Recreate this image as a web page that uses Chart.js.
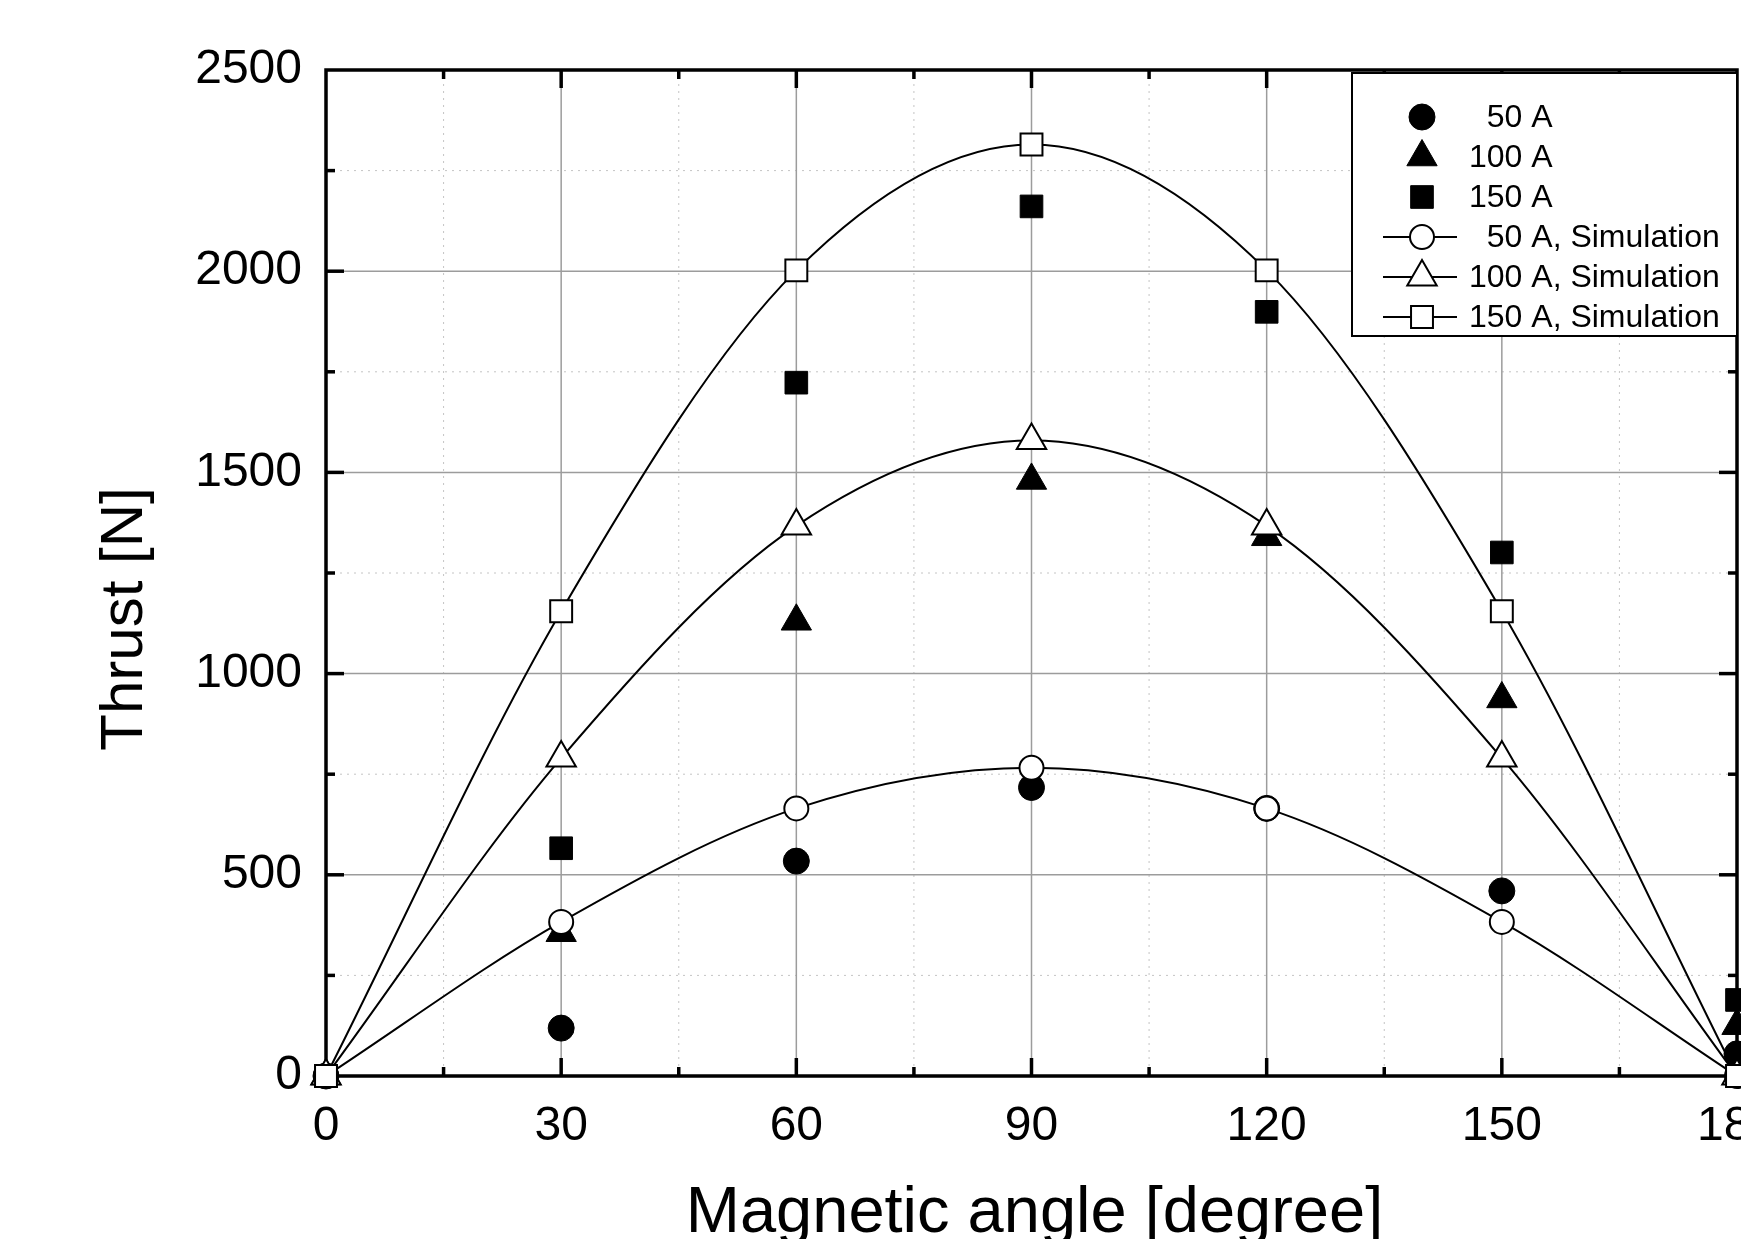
<!DOCTYPE html>
<html>
<head>
<meta charset="utf-8">
<script src="https://cdn.jsdelivr.net/npm/chart.js@4.4.0/dist/chart.umd.min.js"></script>
<style>
html,body{margin:0;padding:0;background:#fff;overflow:hidden}
#c{display:block}
</style>
</head>
<body>
<canvas id="c" width="1741" height="1239"></canvas>
<script>
// values
const angles = [0, 30, 60, 90, 120, 150, 180];
const exp50  = [0, 119, 534, 717, 665, 460, 55];
const exp100 = [0, 356, 1130, 1480, 1340, 937, 125];
const exp150 = [0, 566, 1723, 2161, 1899, 1301, 189];
const sim50  = [0, 383, 665, 766, 665, 383, 0];
const sim100 = [0, 790, 1367, 1579, 1367, 790, 0];
const sim150 = [0, 1155, 2002, 2315, 2002, 1155, 0];
const xTicks = [0, 30, 60, 90, 120, 150, 180];
const yTicks = [0, 500, 1000, 1500, 2000, 2500];
const seriesLabels = ["\u200750 A", "100 A", "150 A", "\u200750 A, Simulation", "100 A, Simulation", "150 A, Simulation"];
const xTitle = "Magnetic angle [degree]";
const yTitle = "Thrust [N]";

const FONT = "'Liberation Sans', Arial, sans-serif";
const pts = arr => angles.map((a, i) => ({x: a, y: arr[i]}));

function expSet(label, data, style, r, order){
  return {label, data: pts(data), showLine:false, pointStyle:style, pointRadius:r, pointHoverRadius:r,
    pointBackgroundColor:"#000", pointBorderColor:"#000", pointBorderWidth:1, order, clip:false, sim:false};
}
function simSet(label, data, style, r, order){
  return {label, data: pts(data), showLine:true, borderColor:"#000", borderWidth:2, cubicInterpolationMode:"monotone",
    pointStyle:style, pointRadius:r, pointHoverRadius:r, pointBackgroundColor:"#fff", pointBorderColor:"#000",
    pointBorderWidth:2, order, clip:false, sim:true};
}

// lower order is drawn on top
const datasets = [
  expSet(seriesLabels[0], exp50, "circle", 13, 5),
  expSet(seriesLabels[1], exp100, "triangle", 17.5, 4),
  expSet(seriesLabels[2], exp150, "rect", 16, 3),
  simSet(seriesLabels[3], sim50, "circle", 12, 2),
  simSet(seriesLabels[4], sim100, "triangle", 17, 1),
  simSet(seriesLabels[5], sim150, "rect", 15.5, 0)
];

function seg(ctx, x1, y1, x2, y2){ ctx.beginPath(); ctx.moveTo(x1, y1); ctx.lineTo(x2, y2); ctx.stroke(); }

const frame = {
  id: "frame",
  beforeDatasetsDraw(chart){
    const {ctx, chartArea: a, scales: {x, y}} = chart;
    ctx.save();
    // minor grid, dotted
    ctx.setLineDash([2, 5]); ctx.strokeStyle = "#c4c4c4"; ctx.lineWidth = 1;
    const xm = [], ym = [];
    for (let i = 0; i < xTicks.length - 1; i++) xm.push(x.getPixelForValue((xTicks[i] + xTicks[i+1]) / 2));
    for (let i = 0; i < yTicks.length - 1; i++) ym.push(y.getPixelForValue((yTicks[i] + yTicks[i+1]) / 2));
    xm.forEach(px => seg(ctx, px, a.top, px, a.bottom));
    ym.forEach(py => seg(ctx, a.left, py, a.right, py));
    // major grid
    ctx.setLineDash([]); ctx.strokeStyle = "#9c9c9c"; ctx.lineWidth = 1.5;
    const xM = xTicks.slice(1, -1).map(v => x.getPixelForValue(v));
    const yM = yTicks.slice(1, -1).map(v => y.getPixelForValue(v));
    xM.forEach(px => seg(ctx, px, a.top, px, a.bottom));
    yM.forEach(py => seg(ctx, a.left, py, a.right, py));
    // inward ticks on all four sides
    ctx.strokeStyle = "#000"; ctx.lineWidth = 3.5;
    const maj = 18, mnr = 9;
    xM.forEach(px => { seg(ctx, px, a.bottom, px, a.bottom - maj); seg(ctx, px, a.top, px, a.top + maj); });
    yM.forEach(py => { seg(ctx, a.left, py, a.left + maj, py); seg(ctx, a.right, py, a.right - maj, py); });
    xm.forEach(px => { seg(ctx, px, a.bottom, px, a.bottom - mnr); seg(ctx, px, a.top, px, a.top + mnr); });
    ym.forEach(py => { seg(ctx, a.left, py, a.left + mnr, py); seg(ctx, a.right, py, a.right - mnr, py); });
    // frame
    ctx.lineWidth = 3.5;
    ctx.strokeRect(a.left, a.top, a.right - a.left, a.bottom - a.top);
    ctx.restore();
  },
  afterDatasetsDraw(chart){
    const {ctx, chartArea: a} = chart;
    ctx.save();
    // legend box
    const bx = 1352, by = a.top + 3, bh = 263;
    ctx.fillStyle = "#fff"; ctx.fillRect(bx, by, a.right - bx, bh);
    ctx.strokeStyle = "#000"; ctx.lineWidth = 2; ctx.strokeRect(bx, by, a.right - bx, bh);
    ctx.font = "32px " + FONT; ctx.textBaseline = "middle"; ctx.textAlign = "left";
    chart.data.datasets.forEach((ds, i) => {
      const cy = by + 44 + i * 40, mx = 1422;
      ctx.strokeStyle = "#000"; ctx.lineWidth = 2;
      if (ds.sim) seg(ctx, 1383, cy, 1457, cy);
      ctx.fillStyle = ds.pointBackgroundColor; ctx.strokeStyle = "#000"; ctx.lineWidth = ds.pointBorderWidth;
      Chart.helpers.drawPoint(ctx, {pointStyle: ds.pointStyle, radius: ds.pointRadius, rotation: 0, borderWidth: ds.pointBorderWidth}, mx, cy);
      ctx.fillStyle = "#000";
      ctx.fillText(ds.label, 1469, cy + 1);
    });
    ctx.restore();
  },
  afterDraw(chart){
    const {ctx, chartArea: a} = chart;
    ctx.save();
    ctx.fillStyle = "#000"; ctx.textBaseline = "alphabetic"; ctx.textAlign = "center";
    ctx.font = "65px " + FONT;
    ctx.fillText(xTitle, (a.left + a.right) / 2 + 3, a.bottom + 156);
    ctx.font = "60px " + FONT;
    ctx.translate(a.left - 184, (a.top + a.bottom) / 2 + 46);
    ctx.rotate(-Math.PI / 2);
    ctx.fillText(yTitle, 0, 0);
    ctx.restore();
  }
};

const tickFont = {family: FONT, size: 48};
new Chart(document.getElementById("c"), {
  type: "line",
  data: {datasets},
  options: {
    responsive: false,
    animation: false,
    events: [],
    layout: {autoPadding: false, padding: {top: 70, right: 4, left: 0, bottom: 0}},
    plugins: {legend: {display: false}, tooltip: {enabled: false}},
    scales: {
      x: {
        type: "linear", min: 0, max: 180,
        afterBuildTicks: s => { s.ticks = xTicks.map(v => ({value: v})); },
        grid: {display: false}, border: {display: false},
        ticks: {font: tickFont, color: "#000", padding: 14, maxRotation: 0, autoSkip: false, callback: v => String(v)},
        afterFit: s => { s.height = 163; s.paddingLeft = 0; s.paddingRight = 0; }
      },
      y: {
        type: "linear", min: 0, max: 2500,
        afterBuildTicks: s => { s.ticks = yTicks.map(v => ({value: v})); },
        grid: {display: false}, border: {display: false},
        ticks: {font: tickFont, color: "#000", padding: 16, autoSkip: false, callback: v => String(v)},
        afterFit: s => { s.width = 326; s.paddingTop = 0; s.paddingBottom = 0; }
      }
    }
  },
  plugins: [frame]
});
</script>
</body>
</html>
